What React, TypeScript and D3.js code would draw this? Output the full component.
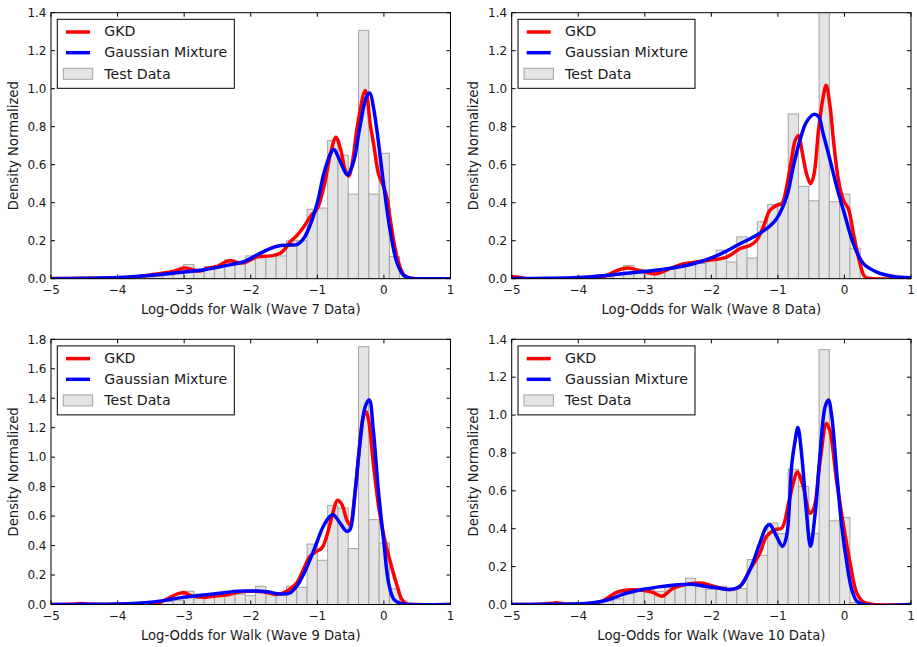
import React from "react";
import * as d3 from "d3";

// ---------- DATA ----------
const binEdges = [
  -3.627, -3.472, -3.317, -3.163, -3.008, -2.854, -2.699, -2.545, -2.39, -2.236, -2.081, -1.927, -1.772,
  -1.618, -1.463, -1.309, -1.154, -1.0, -0.845, -0.69, -0.536, -0.381, -0.227, -0.072, 0.082, 0.236,
];

const wave7Hist = [0.005, 0.01, 0.02, 0.03, 0.074, 0.045, 0.065, 0.07, 0.1, 0.074, 0.12, 0.12, 0.12, 0.12, 0.2, 0.2, 0.365, 0.372, 0.728, 0.65, 0.445, 1.307, 0.445, 0.66, 0.116];
const wave8Hist = [0.005, 0.02, 0.07, 0.05, 0.04, 0.04, 0.05, 0.06, 0.08, 0.08, 0.1, 0.15, 0.088, 0.22, 0.109, 0.3, 0.39, 0.4, 0.867, 0.486, 0.41, 1.45, 0.405, 0.445, 0.16];
const wave9Hist = [0.005, 0.01, 0.02, 0.03, 0.09, 0.07, 0.06, 0.07, 0.08, 0.07, 0.06, 0.124, 0.08, 0.08, 0.124, 0.117, 0.41, 0.3, 0.673, 0.655, 0.38, 1.75, 0.576, 0.418, 0.106];
const wave10Hist = [0.02, 0.03, 0.06, 0.07, 0.08, 0.07, 0.09, 0.096, 0.139, 0.1, 0.08, 0.096, 0.082, 0.084, 0.237, 0.26, 0.43, 0.374, 0.714, 0.623, 0.374, 1.345, 0.442, 0.46, 0.01];

const wave7Gkd: [number, number][] = [[-5,0.001],[-4.5,0.002],[-4,0.004],[-3.7,0.01],[-3.5,0.02],[-3.3,0.03],[-3.15,0.04],[-3.0,0.056],[-2.9,0.05],[-2.77,0.04],[-2.65,0.055],[-2.5,0.065],[-2.37,0.09],[-2.3,0.095],[-2.2,0.085],[-2.1,0.085],[-1.9,0.115],[-1.7,0.12],[-1.55,0.135],[-1.4,0.196],[-1.3,0.23],[-1.2,0.275],[-1.1,0.33],[-1.0,0.37],[-0.9,0.486],[-0.8,0.66],[-0.72,0.745],[-0.65,0.68],[-0.58,0.57],[-0.53,0.54],[-0.47,0.62],[-0.4,0.8],[-0.28,0.99],[-0.2,0.8],[-0.15,0.7],[-0.08,0.55],[0.0,0.48],[0.05,0.42],[0.1,0.3],[0.2,0.11],[0.3,0.02],[0.4,0.003],[0.6,0],[1,0]];
const wave7Gmm: [number, number][] = [[-5,0],[-4.5,0.002],[-4,0.006],[-3.5,0.018],[-3.0,0.035],[-2.7,0.047],[-2.3,0.074],[-2.1,0.09],[-1.9,0.126],[-1.7,0.16],[-1.55,0.175],[-1.4,0.177],[-1.3,0.18],[-1.2,0.214],[-1.1,0.29],[-1.0,0.4],[-0.9,0.556],[-0.8,0.66],[-0.75,0.68],[-0.66,0.62],[-0.55,0.547],[-0.46,0.61],[-0.36,0.8],[-0.26,0.96],[-0.21,0.977],[-0.16,0.907],[-0.1,0.767],[0.0,0.486],[0.1,0.24],[0.2,0.08],[0.3,0.016],[0.4,0.002],[0.6,0],[1,0]];

const wave8Gkd: [number, number][] = [[-5,0.012],[-4.9,0.008],[-4.78,0.0],[-4.3,0],[-3.8,0.003],[-3.58,0.016],[-3.44,0.04],[-3.26,0.056],[-3.09,0.044],[-2.84,0.026],[-2.64,0.05],[-2.44,0.076],[-2.27,0.086],[-2.07,0.096],[-1.77,0.114],[-1.57,0.158],[-1.42,0.175],[-1.32,0.202],[-1.22,0.272],[-1.12,0.36],[-1.02,0.386],[-0.94,0.395],[-0.87,0.482],[-0.79,0.64],[-0.74,0.728],[-0.69,0.754],[-0.64,0.675],[-0.57,0.553],[-0.51,0.5],[-0.46,0.544],[-0.39,0.78],[-0.32,0.956],[-0.275,1.018],[-0.215,0.904],[-0.165,0.728],[-0.09,0.518],[-0.015,0.412],[0.06,0.368],[0.135,0.237],[0.235,0.079],[0.31,0.009],[0.435,0],[1,0]];
const wave8Gmm: [number, number][] = [[-5,0.001],[-4.5,0.002],[-4,0.006],[-3.5,0.02],[-3.0,0.038],[-2.77,0.047],[-2.27,0.079],[-1.97,0.114],[-1.77,0.146],[-1.57,0.184],[-1.37,0.219],[-1.17,0.263],[-1.02,0.316],[-0.87,0.43],[-0.77,0.588],[-0.67,0.728],[-0.57,0.825],[-0.46,0.865],[-0.39,0.854],[-0.32,0.763],[-0.215,0.623],[-0.115,0.482],[0,0.342],[0.135,0.184],[0.285,0.079],[0.486,0.035],[0.736,0.012],[1,0.005]];

const wave9Gkd: [number, number][] = [[-5,0],[-4.7,0.002],[-4.55,0.006],[-4.4,0.002],[-4,0.001],[-3.6,0.004],[-3.4,0.01],[-3.27,0.034],[-3.1,0.072],[-3.0,0.079],[-2.87,0.056],[-2.67,0.05],[-2.5,0.06],[-2.37,0.065],[-2.17,0.084],[-2.01,0.09],[-1.81,0.086],[-1.61,0.068],[-1.46,0.09],[-1.31,0.147],[-1.21,0.237],[-1.11,0.327],[-1.01,0.361],[-0.93,0.384],[-0.86,0.463],[-0.76,0.632],[-0.7,0.707],[-0.63,0.678],[-0.56,0.576],[-0.51,0.542],[-0.45,0.689],[-0.38,1.005],[-0.31,1.276],[-0.27,1.31],[-0.23,1.253],[-0.16,0.96],[-0.08,0.666],[0,0.463],[0.1,0.282],[0.2,0.124],[0.27,0.034],[0.35,0.005],[0.5,0],[1,0]];
const wave9Gmm: [number, number][] = [[-5,0],[-4.5,0.001],[-4,0.003],[-3.5,0.015],[-3.2,0.035],[-3.0,0.05],[-2.7,0.065],[-2.4,0.08],[-2.2,0.09],[-2.0,0.092],[-1.76,0.086],[-1.56,0.072],[-1.41,0.079],[-1.31,0.124],[-1.21,0.203],[-1.11,0.305],[-1.01,0.418],[-0.91,0.531],[-0.81,0.598],[-0.76,0.61],[-0.66,0.553],[-0.56,0.497],[-0.51,0.508],[-0.43,0.78],[-0.36,1.095],[-0.28,1.344],[-0.22,1.389],[-0.16,1.186],[-0.08,0.757],[0,0.418],[0.07,0.147],[0.15,0.034],[0.25,0.007],[0.4,0],[1,0]];

const wave10Gkd: [number, number][] = [[-5,0],[-4.6,0.001],[-4.43,0.005],[-4.33,0.009],[-4.2,0.003],[-3.9,0.001],[-3.64,0.018],[-3.44,0.061],[-3.29,0.075],[-3.04,0.075],[-2.89,0.065],[-2.74,0.044],[-2.59,0.082],[-2.39,0.105],[-2.2,0.114],[-2.12,0.112],[-1.92,0.091],[-1.72,0.079],[-1.57,0.096],[-1.42,0.184],[-1.27,0.272],[-1.17,0.36],[-1.04,0.395],[-0.94,0.404],[-0.84,0.535],[-0.77,0.64],[-0.71,0.7],[-0.62,0.623],[-0.52,0.482],[-0.46,0.509],[-0.37,0.746],[-0.27,0.956],[-0.22,0.92],[-0.12,0.658],[-0.02,0.43],[0.085,0.22],[0.185,0.061],[0.29,0.012],[0.44,0],[1,0]];
const wave10Gmm: [number, number][] = [[-5,0],[-4.5,0.001],[-4,0.004],[-3.78,0.009],[-3.54,0.026],[-3.29,0.058],[-3.04,0.079],[-2.79,0.093],[-2.54,0.103],[-2.3,0.107],[-2.12,0.098],[-1.92,0.088],[-1.72,0.079],[-1.57,0.096],[-1.42,0.184],[-1.27,0.325],[-1.17,0.412],[-1.12,0.421],[-1.02,0.36],[-0.93,0.307],[-0.87,0.36],[-0.79,0.746],[-0.74,0.868],[-0.7,0.935],[-0.64,0.78],[-0.57,0.482],[-0.51,0.307],[-0.44,0.482],[-0.37,0.78],[-0.29,1.044],[-0.24,1.079],[-0.19,0.991],[-0.12,0.711],[-0.04,0.412],[0.035,0.22],[0.11,0.079],[0.185,0.018],[0.29,0],[1,0]];

const xTicks = [-5, -4, -3, -2, -1, 0, 1];
const waveNames = ["Wave 7 Data", "Wave 8 Data", "Wave 9 Data", "Wave 10 Data"];
const yMaxes = [1.4, 1.4, 1.8, 1.4];
const legendLabels = ["GKD", "Gaussian Mixture", "Test Data"];

// ---------- LAYOUT ----------
const W = 917;
const H = 647;
const boxes = [
  { x0: 51, x1: 450.5, y0: 12.7, y1: 278.7 },
  { x0: 511.7, x1: 911, y0: 12.7, y1: 278.7 },
  { x0: 51, x1: 450.5, y0: 339.3, y1: 604.5 },
  { x0: 511.7, x1: 911, y0: 339.3, y1: 604.5 },
];
const hists = [wave7Hist, wave8Hist, wave9Hist, wave10Hist];
const gkds = [wave7Gkd, wave8Gkd, wave9Gkd, wave10Gkd];
const gmms = [wave7Gmm, wave8Gmm, wave9Gmm, wave10Gmm];

const FONT = "DejaVu Sans, sans-serif";
const TEXT = "#1a1a1a";
const fmtTick = (v: number) => (v < 0 ? "\u2212" + Math.abs(v) : String(v));

function Panel({ i }: { i: number }) {
  const b = boxes[i];
  const yMax = yMaxes[i];
  const x = d3.scaleLinear().domain([-5, 1]).range([b.x0, b.x1]);
  const y = d3.scaleLinear().domain([0, yMax]).range([b.y1, b.y0]);
  const yTicks = d3.range(0, yMax + 1e-9, 0.2);
  const line = d3
    .line<[number, number]>()
    .x((d) => x(d[0]))
    .y((d) => y(d[1]))
    .curve(d3.curveCatmullRom.alpha(0.5));
  const clipId = `clip${i}`;
  const tl = 4;
  const lx = b.x0;
  const ly = b.y0;
  return (
    <g>
      <defs>
        <clipPath id={clipId}>
          <rect x={b.x0} y={b.y0} width={b.x1 - b.x0} height={b.y1 - b.y0} />
        </clipPath>
      </defs>
      <g clipPath={`url(#${clipId})`}>
        {hists[i].map((h, k) => (
          <rect
            key={k}
            x={x(binEdges[k])}
            y={y(h)}
            width={x(binEdges[k + 1]) - x(binEdges[k])}
            height={y(0) - y(h)}
            fill="#e4e4e4"
            stroke="#a3a3a3"
            strokeWidth={1}
          />
        ))}
        <path d={line(gkds[i]) || ""} fill="none" stroke="#ff0000" strokeWidth={3.5} strokeLinejoin="round" />
        <path d={line(gmms[i]) || ""} fill="none" stroke="#0000ff" strokeWidth={3.5} strokeLinejoin="round" />
      </g>
      <rect x={b.x0} y={b.y0} width={b.x1 - b.x0} height={b.y1 - b.y0} fill="none" stroke="#000" strokeWidth={1} />
      {xTicks.map((t) => (
        <g key={"x" + t}>
          <line x1={x(t)} x2={x(t)} y1={b.y1} y2={b.y1 - tl} stroke="#000" strokeWidth={1} />
          <line x1={x(t)} x2={x(t)} y1={b.y0} y2={b.y0 + tl} stroke="#000" strokeWidth={1} />
          <text x={x(t)} y={b.y1 + 15} textAnchor="middle" fontSize={12} fontFamily={FONT} fill={TEXT}>
            {fmtTick(t)}
          </text>
        </g>
      ))}
      {yTicks.map((t) => (
        <g key={"y" + t}>
          <line x1={b.x0} x2={b.x0 + tl} y1={y(t)} y2={y(t)} stroke="#000" strokeWidth={1} />
          <line x1={b.x1} x2={b.x1 - tl} y1={y(t)} y2={y(t)} stroke="#000" strokeWidth={1} />
          <text x={b.x0 - 4.5} y={y(t) + 4.3} textAnchor="end" fontSize={12} fontFamily={FONT} fill={TEXT}>
            {t.toFixed(1)}
          </text>
        </g>
      ))}
      <text
        x={(b.x0 + b.x1) / 2}
        y={b.y1 + 35}
        textAnchor="middle"
        fontSize={13.2}
        fontFamily={FONT}
        fill={TEXT}
      >
        {"Log-Odds for Walk (" + waveNames[i] + ")"}
      </text>
      <text
        transform={`translate(${b.x0 - 33.5},${(b.y0 + b.y1) / 2}) rotate(-90)`}
        textAnchor="middle"
        fontSize={13.2}
        fontFamily={FONT}
        fill={TEXT}
      >
        Density Normalized
      </text>
      {/* legend */}
      <rect x={lx + 6.3} y={ly + 6.6} width={177} height={69} fill="#fff" stroke="#000" strokeWidth={1} />
      <line x1={lx + 15} x2={lx + 39} y1={ly + 19.3} y2={ly + 19.3} stroke="#ff0000" strokeWidth={3.5} />
      <line x1={lx + 15} x2={lx + 39} y1={ly + 40} y2={ly + 40} stroke="#0000ff" strokeWidth={3.5} />
      <rect x={lx + 12.3} y={ly + 55.6} width={29.4} height={11} fill="#e4e4e4" stroke="#a3a3a3" strokeWidth={1} />
      {legendLabels.map((s, k) => (
        <text key={s} x={lx + 53.3} y={ly + 23.5 + k * 21.2} fontSize={14.2} fontFamily={FONT} fill={TEXT}>
          {s}
        </text>
      ))}
    </g>
  );
}

export default function App() {
  return (
    <svg
      width={W}
      height={H}
      viewBox={`0 0 ${W} ${H}`}
      style={{ position: "absolute", left: 0, top: 0, background: "#fff" }}
    >
      <rect x={0} y={0} width={W} height={H} fill="#fff" />
      {[0, 1, 2, 3].map((i) => (
        <Panel key={i} i={i} />
      ))}
    </svg>
  );
}
